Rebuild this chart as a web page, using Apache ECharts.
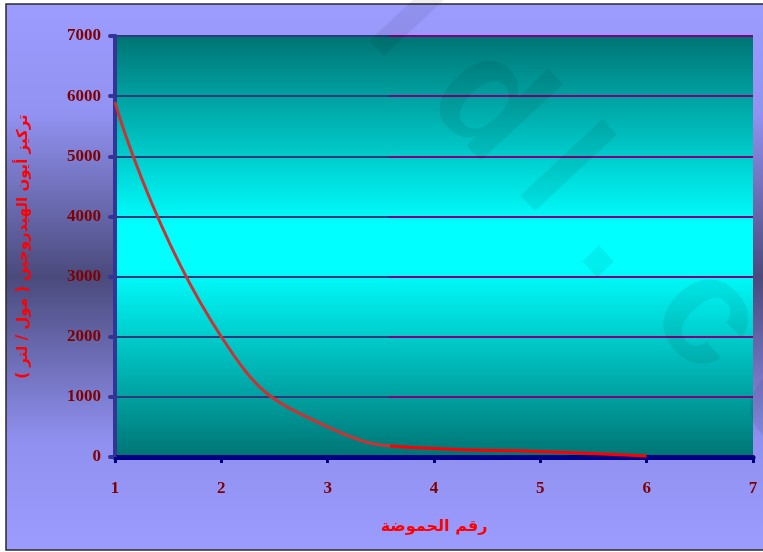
<!DOCTYPE html>
<html>
<head>
<meta charset="utf-8">
<script src="https://cdn.jsdelivr.net/npm/echarts@6/dist/echarts.min.js"></script>
<style>
  html, body { margin: 0; padding: 0; background: #ffffff; }
  #chart { width: 763px; height: 552px; }
</style>
</head>
<body>
<div id="chart"></div>
<script>
// pH values and matching hydrogen ion concentration
const phValues = [1, 2, 3, 4, 5, 6];
const concentration = [5900, 2000, 500, 140, 90, 15];

const xTicks = { min: 1, max: 7, step: 1 };
const yTicks = { min: 0, max: 7000, step: 1000 };

const xTitle = 'رقم الحموضة';
const yTitle = '\u200Fتركيز أيون الهيدروجين ( مول / لتر )\u200F';

// faint diagonal site mark drawn over the chart
const markGlyphs = ['l', 'd', 'l', '.', 'c', 'o'];
const markAnchors = [[408, 19], [487, 105], [559, 174], [621, 240], [706, 319], [795, 405]];

const points = phValues.map((p, i) => [p, concentration[i]]);

const labelFont = {
  color: '#800000',
  fontFamily: '"Liberation Serif", "Times New Roman", serif',
  fontWeight: 'bold',
  fontSize: 17
};
const nameFont = {
  color: '#ff0000',
  fontFamily: '"DejaVu Sans", sans-serif',
  fontWeight: 'bold',
  fontSize: 15
};

const splitLeftPart = (a, b, cut) => ({
  type: 'linear', x: 0, y: 0, x2: 1, y2: 0,
  colorStops: [
    { offset: 0, color: a }, { offset: cut, color: a },
    { offset: cut, color: b }, { offset: 1, color: b }
  ]
});

const graphics = [{
  type: 'rect',
  z: -10,
  shape: { x: 6, y: 4, width: 800, height: 546 },
  style: {
    fill: {
      type: 'linear', x: 0, y: 0, x2: 0, y2: 1,
      colorStops: [
        { offset: 0, color: '#9c9cff' },
        { offset: 0.2, color: '#9292f2' },
        { offset: 0.5, color: '#4a4a7c' },
        { offset: 0.8, color: '#9090f0' },
        { offset: 1, color: '#9c9cff' }
      ]
    },
    stroke: '#2a2a2a',
    lineWidth: 1.5
  }
}];

markGlyphs.forEach((g, i) => {
  graphics.push({
    type: 'text',
    z: 100,
    x: markAnchors[i][0],
    y: markAnchors[i][1],
    rotation: -47 * Math.PI / 180,
    silent: true,
    style: {
      text: g,
      fill: 'rgba(0,0,0,0.065)',
      font: 'bold 155px "Liberation Sans", Arial, sans-serif',
      textAlign: 'center',
      textVerticalAlign: 'middle'
    }
  });
});

const chart = echarts.init(document.getElementById('chart'), null, { renderer: 'canvas' });
chart.setOption({
  animation: false,
  backgroundColor: '#ffffff',
  graphic: graphics,
  grid: {
    left: 115, right: 10, top: 36, bottom: 95,
    show: true,
    borderWidth: 0,
    backgroundColor: {
      type: 'linear', x: 0, y: 0, x2: 0, y2: 1,
      colorStops: [
        { offset: 0, color: '#007474' },
        { offset: 0.45, color: '#00ffff' },
        { offset: 0.55, color: '#00ffff' },
        { offset: 1, color: '#007474' }
      ]
    }
  },
  xAxis: {
    type: 'value',
    min: xTicks.min, max: xTicks.max, interval: xTicks.step,
    name: xTitle,
    nameLocation: 'middle',
    nameGap: 62,
    nameTextStyle: Object.assign({}, nameFont, { fontSize: 16 }),
    axisLine: { show: true, onZero: false, lineStyle: { color: '#000080', width: 5 } },
    axisTick: { show: true, length: 6, lineStyle: { color: '#000080', width: 3 } },
    axisLabel: Object.assign({ margin: 23, formatter: v => String(v) }, labelFont),
    splitLine: { show: false }
  },
  yAxis: {
    type: 'value',
    min: yTicks.min, max: yTicks.max, interval: yTicks.step,
    name: yTitle,
    nameLocation: 'middle',
    nameGap: 84,
    nameRotate: 90,
    nameTextStyle: nameFont,
    axisLine: { show: true, lineStyle: { color: '#343496', width: 4 } },
    axisTick: { show: true, length: 5, lineStyle: { color: '#343496', width: 4, cap: 'round' } },
    axisLabel: Object.assign({ margin: 14, formatter: v => String(v) }, labelFont),
    splitLine: {
      show: true,
      lineStyle: { color: splitLeftPart('#2e3a7a', '#800080', 0.43), width: 2 }
    }
  },
  series: [{
    type: 'line',
    data: points,
    smooth: true,
    showSymbol: false,
    lineStyle: { width: 3, color: splitLeftPart('#c83434', '#ff0000', 0.517) },
    z: 5
  }]
});
</script>
</body>
</html>
